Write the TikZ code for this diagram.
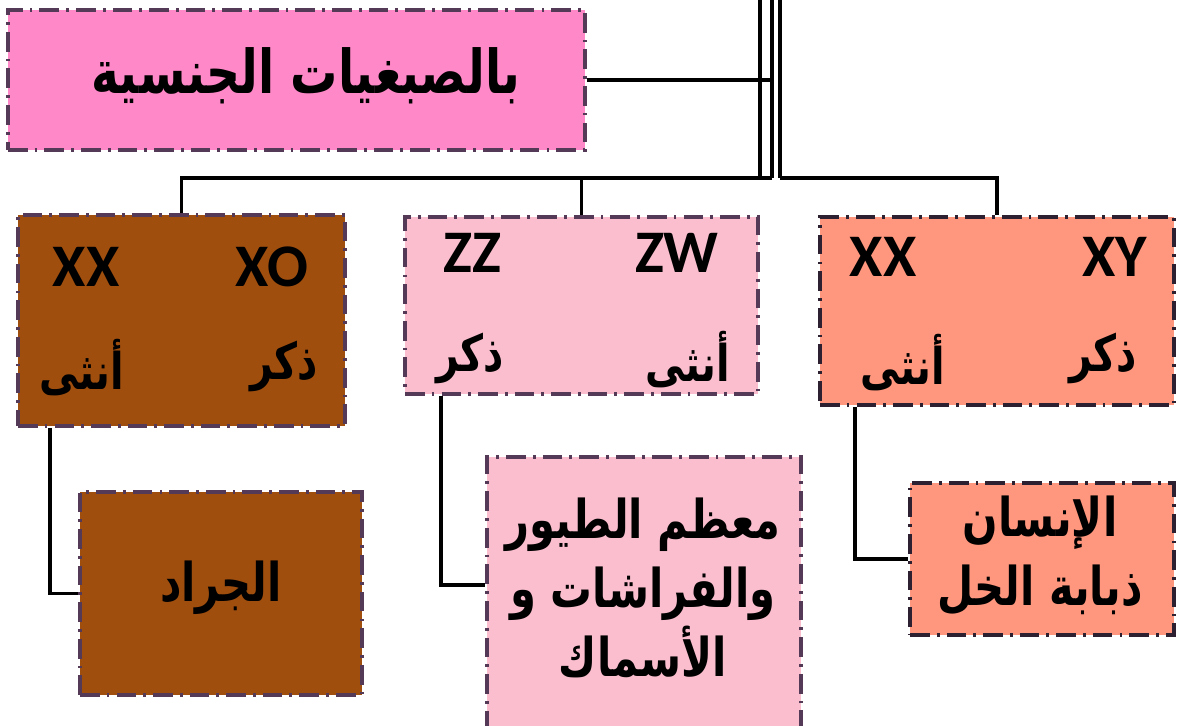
\documentclass[tikz,border=0pt]{standalone}
\usepackage{fontspec}
\usepackage{xcolor}
\usetikzlibrary{positioning}
\TeXXeTstate=1
\newfontfamily\arabicfont[Script=Arabic,FakeStretch=0.78]{DejaVu Sans}
\newfontfamily\latinfont{Carlito}

\definecolor{hotpink}{RGB}{255,136,200}
\definecolor{rust}{RGB}{160,78,14}
\definecolor{palepink}{RGB}{250,190,206}
\definecolor{salmon}{RGB}{255,151,126}
\definecolor{boxline}{RGB}{85,58,88}
\definecolor{darkline}{RGB}{45,32,48}

\tikzset{
  chrbox/.style={draw=boxline, line width=2.6pt, dash pattern=on 14pt off 5pt on 2pt off 5pt, inner sep=0pt},
  gene/.style={font=\latinfont\bfseries\fontsize{43}{48}\selectfont, inner sep=0pt},
  sexlbl/.style={font=\arabicfont\bfseries\fontsize{36}{40}\selectfont, inner sep=0pt},
  grp/.style={font=\arabicfont\bfseries\fontsize{38}{49}\selectfont, align=center, inner sep=0pt},
  link/.style={line width=2.6pt, black},
}

\begin{document}
\begin{tikzpicture}[x=0.025cm,y=-0.025cm]
\useasboundingbox (0,0) rectangle (1177,725);

%boxes
\node[chrbox, fill=hotpink, minimum width=14.425cm, minimum height=3.5cm] at (296.5,80) (sexchr) {};
\node[chrbox, fill=rust, minimum width=8.175cm, minimum height=5.275cm] at (181.5,320.5) (xo) {};
\node[chrbox, fill=palepink, minimum width=8.825cm, minimum height=4.425cm] at (581.5,305.5) (zw) {};
\node[chrbox, fill=salmon, draw=darkline, minimum width=8.85cm, minimum height=4.7cm] at (997,311) (xy) {};
\node[chrbox, fill=rust, minimum width=7.05cm, minimum height=5.075cm] at (221,593.5) (locust) {};
\node[chrbox, fill=palepink, minimum width=7.85cm, minimum height=7.2cm] at (644,601) (birds) {};
\node[chrbox, fill=salmon, draw=darkline, minimum width=6.6cm, minimum height=3.8cm] at (1042,559) (human) {};

%texts
\node[grp, font=\arabicfont\bfseries\fontsize{43}{48}\selectfont] at (306,76) (sexchrtxt) {\beginR بالصبغيات الجنسية\endR};

\node[gene] at (86,267) (xoF) {XX};
\node[gene] at (272,267) (xoM) {XO};
\node[sexlbl] at (82,368) (xoFl) {\beginR أنثى\endR};
\node[sexlbl] at (284,366) (xoMl) {\beginR ذكر\endR};

\node[gene] at (472,253) (zwM) {ZZ};
\node[gene] at (677,253) (zwF) {ZW};
\node[sexlbl] at (470,358) (zwMl) {\beginR ذكر\endR};
\node[sexlbl] at (688,360) (zwFl) {\beginR أنثى\endR};

\node[gene] at (883,257) (xyF) {XX};
\node[gene] at (1115,257) (xyM) {XY};
\node[sexlbl] at (903,363) (xyFl) {\beginR أنثى\endR};
\node[sexlbl] at (1103,358) (xyMl) {\beginR ذكر\endR};

\node[grp] at (221,588) (locusttxt) {\beginR الجراد\endR};
\node[grp] at (643,588) (birdstxt) {\beginR معظم الطيور\endR\\\beginR والفراشات و\endR\\\beginR الأسماك\endR};
\node[grp] at (1040,556) (humantxt) {\beginR الإنسان\endR\\\beginR ذبابة الخل\endR};

%trunk
\coordinate (topL) at (760,-5);
\coordinate (topM) at (772,-5);
\coordinate (topR) at (780,-5);
\coordinate (trunkL) at (760,178);
\coordinate (trunkM) at (772,178);
\coordinate (trunkR) at (780,178);
\draw[link] (topL) -- (trunkL);
\draw[link] (topM) -- (trunkM);
\draw[link] (topR) -- (trunkR);

%connectors
\draw[link] (sexchr.east) -- (sexchr.east -| trunkM);
\draw[link] (trunkM) -| (xo.north);
\draw[link] (trunkM -| zw.north) -- (zw.north);
\draw[link] (trunkR) -| (xy.north);
\draw[link] ([xshift=0.85cm]xo.south west) |- (locust.west);
\draw[link] ([xshift=0.95cm]zw.south west) |- ([yshift=0.4cm]birds.west);
\draw[link] ([xshift=0.925cm]xy.south west) |- (human.west);

\end{tikzpicture}
\end{document}
